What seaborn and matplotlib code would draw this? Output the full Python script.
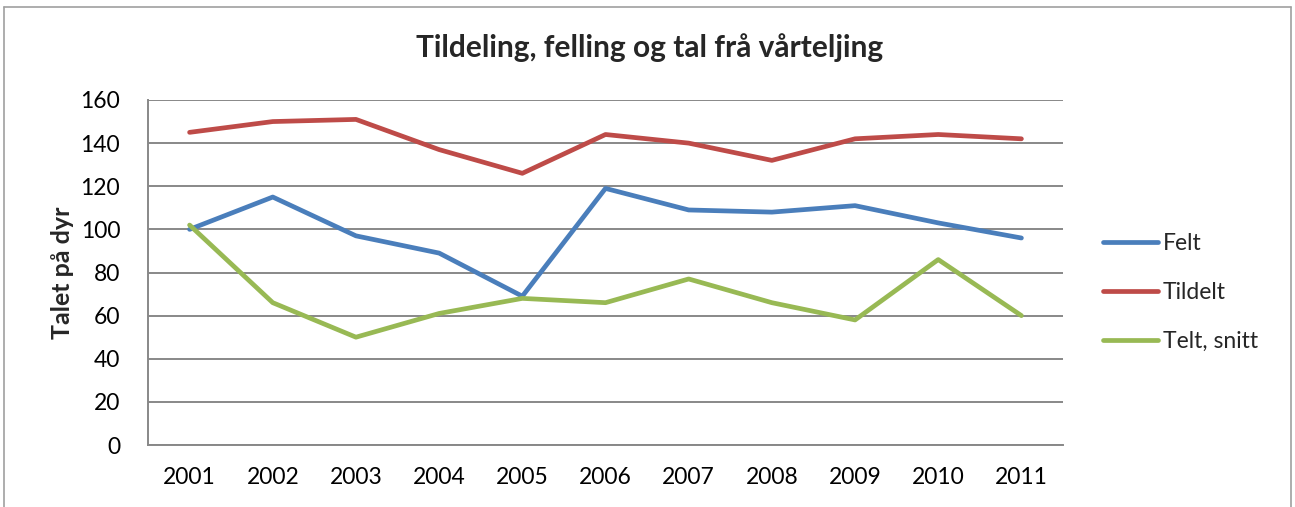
import matplotlib
matplotlib.use("Agg")
import matplotlib.pyplot as plt
from matplotlib.lines import Line2D
import seaborn as sns
import pandas as pd

years = ["2001", "2002", "2003", "2004", "2005", "2006", "2007", "2008", "2009", "2010", "2011"]
felt = [100, 115, 97, 89, 69, 119, 109, 108, 111, 103, 96]
tildelt = [145, 150, 151, 137, 126, 144, 140, 132, 142, 144, 142]
telt_snitt = [102, 66, 50, 61, 68, 66, 77, 66, 58, 86, 60]
series_names = ["Felt", "Tildelt", "Telt, snitt"]
colors = ["#4A7EBB", "#BE4B48", "#98B954"]

df = pd.DataFrame({
    "year": years * 3,
    "pos": list(range(len(years))) * 3,
    "value": felt + tildelt + telt_snitt,
    "series": [s for s in series_names for _ in years],
})

sns.set_style("white")
plt.rcParams["font.family"] = ["Lato", "DejaVu Sans"]

fig = plt.figure(figsize=(12.95, 5.07), dpi=100)
ax = fig.add_axes([148 / 1295, 1 - 445 / 507, (1063 - 148) / 1295, (445 - 100) / 507])

sns.lineplot(data=df, x="pos", y="value", hue="series", hue_order=series_names,
             palette=dict(zip(series_names, colors)), linewidth=3.4, ax=ax,
             solid_capstyle="round")

ax.set_xlim(-0.5, len(years) - 0.5)
ax.set_ylim(0, 160)
ax.set_xticks(range(len(years)))
ax.set_xticklabels(years)
ax.set_yticks(range(0, 161, 20))
ax.tick_params(axis="both", length=0, labelsize=16.5, colors="black")
ax.tick_params(axis="x", pad=16)
ax.tick_params(axis="y", pad=20)
ax.yaxis.grid(True, color="#888888", linewidth=1.4)
ax.set_axisbelow(True)
for side in ["top", "right"]:
    ax.spines[side].set_visible(False)
for side in ["left", "bottom"]:
    ax.spines[side].set_color("#888888")
    ax.spines[side].set_linewidth(1.4)

ax.set_xlabel("")
ax.set_ylabel("Talet på dyr", fontsize=18, fontweight="bold", labelpad=5)
fig.suptitle("Tildeling, felling og tal frå vårteljing", fontsize=21.5, fontweight="bold",
             x=650 / 1295, y=1 - 48 / 507, va="center")

handles, labels = ax.get_legend_handles_labels()
ax.legend(handles, labels, loc="upper left", bbox_to_anchor=(1103 / 1295, 1 - 233 / 507),
          bbox_transform=fig.transFigure, frameon=False, fontsize=16.5,
          borderpad=0, borderaxespad=0,
          handlelength=2.4, handletextpad=0.2, labelspacing=1.22)

# outer chart border
border = dict(color="#A0A0A0", linewidth=1.2, transform=fig.transFigure)
fig.add_artist(Line2D([4 / 1295, 4 / 1295], [0, 1 - 7 / 507], **border))
fig.add_artist(Line2D([1291 / 1295, 1291 / 1295], [0, 1 - 7 / 507], **border))
fig.add_artist(Line2D([4 / 1295, 1291 / 1295], [1 - 7 / 507, 1 - 7 / 507], **border))

fig.savefig("out.png", dpi=100)
